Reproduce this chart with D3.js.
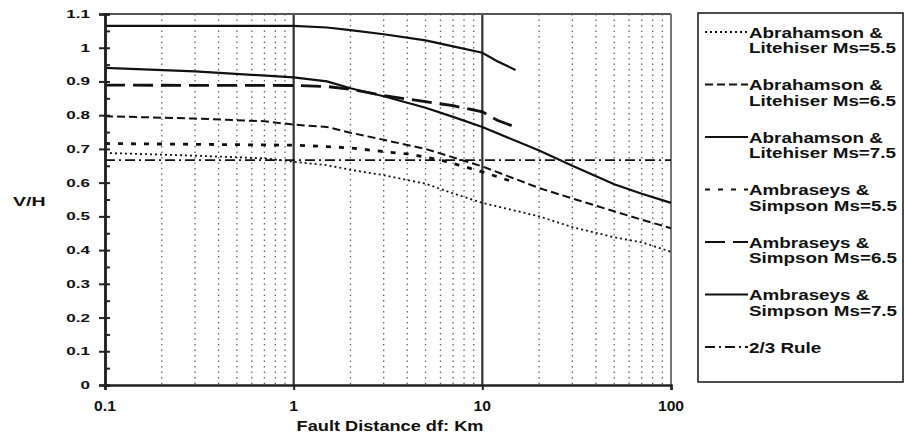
<!DOCTYPE html>
<html>
<head>
<meta charset="utf-8">
<script src="https://cdn.jsdelivr.net/npm/d3@7"></script>
<style>
  html, body { margin: 0; padding: 0; background: #fff; }
  svg { display: block; }
  text { font-family: "Liberation Sans", Arial, sans-serif; fill: #111; }
</style>
</head>
<body>
<svg id="chart" width="905" height="437"></svg>
<script>
// ---- Data ----
const abrahamson55 = [[0.1,0.688],[0.3,0.68],[0.7,0.672],[1,0.662],[1.5,0.652],[2,0.638],[3,0.622],[5,0.597],[7,0.568],[10,0.54],[20,0.5],[30,0.468],[50,0.438],[70,0.423],[100,0.395]];
const abrahamson65 = [[0.1,0.797],[0.3,0.79],[0.7,0.782],[1,0.772],[1.5,0.765],[2,0.748],[3,0.727],[5,0.7],[7,0.675],[10,0.648],[20,0.584],[30,0.553],[50,0.515],[70,0.49],[100,0.465]];
const abrahamson75 = [[0.1,0.94],[0.3,0.93],[1,0.912],[1.5,0.9],[2,0.88],[3,0.856],[5,0.822],[7,0.795],[10,0.765],[20,0.695],[30,0.65],[50,0.595],[70,0.567],[100,0.54]];
const ambraseys55 = [[0.1,0.716],[1,0.711],[1.5,0.707],[2,0.703],[3,0.692],[4,0.685],[5,0.676],[6,0.667],[7.5,0.652],[10,0.632],[15,0.6]];
const ambraseys65 = [[0.1,0.889],[1,0.888],[1.5,0.885],[2,0.877],[3,0.858],[5,0.84],[7,0.828],[10,0.81],[12,0.785],[15,0.765]];
const ambraseys75 = [[0.1,1.065],[1,1.065],[1.5,1.06],[2,1.052],[3,1.04],[5,1.022],[7,1.004],[10,0.985],[12,0.96],[15,0.934]];
const twoThirdsRule = [[0.1,0.667],[100,0.667]];

const seriesNames = [
  ["Abrahamson &", "Litehiser Ms=5.5"],
  ["Abrahamson &", "Litehiser Ms=6.5"],
  ["Abrahamson &", "Litehiser Ms=7.5"],
  ["Ambraseys &", "Simpson Ms=5.5"],
  ["Ambraseys &", "Simpson Ms=6.5"],
  ["Ambraseys &", "Simpson Ms=7.5"],
  ["2/3 Rule"]
];
const xTickValues = [0.1, 1, 10, 100];
const xTickLabels = ["0.1", "1", "10", "100"];
const yTickValues = [0,0.1,0.2,0.3,0.4,0.5,0.6,0.7,0.8,0.9,1,1.1];
const yTickLabels = ["0","0.1","0.2","0.3","0.4","0.5","0.6","0.7","0.8","0.9","1","1.1"];
const xMinorGrid = [0.2,0.3,0.4,0.5,0.6,0.7,0.8,0.9,2,3,4,5,6,7,8,9,20,30,40,50,60,70,80,90];
const xMajorGrid = [1, 10];
const xTitle = "Fault Distance df: Km";
const yTitle = "V/H";

// ---- Styles ----
const styles = [
  {w:1.8, dash:"2,3"},
  {w:2,   dash:"8,4"},
  {w:2.2, dash:null},
  {w:2.8, dash:"5,8"},
  {w:2.8, dash:"20,8"},
  {w:2.2, dash:null},
  {w:1.8, dash:"10,4,2,4"}
];
const seriesData = [abrahamson55, abrahamson65, abrahamson75, ambraseys55, ambraseys65, ambraseys75, twoThirdsRule];

const svg = d3.select("#chart");
const L = 105, R = 671, T = 14, B = 385;
const x = d3.scaleLog().domain([0.1, 100]).range([L, R]);
const y = d3.scaleLinear().domain([0, 1.1]).range([B, T]);

// minor vertical gridlines (dotted)
svg.append("g").selectAll("line").data(xMinorGrid).join("line")
  .attr("x1", d => x(d)).attr("x2", d => x(d))
  .attr("y1", T).attr("y2", B)
  .attr("stroke", "#333").attr("stroke-width", 1.3)
  .attr("stroke-dasharray", "1.5,4").attr("opacity", 0.75);

// major vertical gridlines
svg.append("g").selectAll("line").data(xMajorGrid).join("line")
  .attr("x1", d => x(d)).attr("x2", d => x(d))
  .attr("y1", T).attr("y2", B)
  .attr("stroke", "#333").attr("stroke-width", 2.2);

// frame top & right
svg.append("line").attr("x1", L).attr("x2", R).attr("y1", T).attr("y2", T)
  .attr("stroke", "#555").attr("stroke-width", 2);
svg.append("line").attr("x1", R).attr("x2", R).attr("y1", T).attr("y2", B)
  .attr("stroke", "#777").attr("stroke-width", 2);

// series lines
const line = d3.line().x(d => x(d[0])).y(d => y(d[1]));
seriesData.forEach((data, i) => {
  svg.append("path").datum(data)
    .attr("d", line)
    .attr("fill", "none")
    .attr("stroke", "#111")
    .attr("stroke-width", styles[i].w)
    .attr("stroke-dasharray", styles[i].dash);
});

// y axis (outer major ticks)
const yAxisOuter = svg.append("g").attr("transform", `translate(${L},0)`)
  .call(d3.axisLeft(y).tickValues(yTickValues).tickSize(6).tickFormat(""));
// inner ticks (major+minor)
const yInnerTicks = d3.range(0, 1.1001, 0.05);
const yAxisInner = svg.append("g").attr("transform", `translate(${L},0)`)
  .call(d3.axisRight(y).tickValues(yInnerTicks).tickSize(5).tickFormat(""));
[yAxisOuter, yAxisInner].forEach(g => {
  g.select(".domain").attr("stroke", "#222").attr("stroke-width", 2.5);
  g.selectAll(".tick line").attr("stroke", "#222").attr("stroke-width", 2);
});

// x axis
const xAxis = svg.append("g").attr("transform", `translate(0,${B})`)
  .call(d3.axisBottom(x).tickValues(xTickValues).tickSize(5).tickFormat(""));
xAxis.select(".domain").attr("stroke", "#222").attr("stroke-width", 2.5);
xAxis.selectAll(".tick line").attr("stroke", "#222").attr("stroke-width", 2);

// y tick labels (squat, wide)
svg.append("g").selectAll("text").data(yTickValues).join("text")
  .attr("transform", d => `translate(90,${y(d) + 4}) scale(1.55,1)`)
  .attr("text-anchor", "end")
  .attr("font-size", 11).attr("font-weight", "bold")
  .text((d, i) => yTickLabels[i]);

// x tick labels
svg.append("g").selectAll("text").data(xTickValues).join("text")
  .attr("transform", d => `translate(${x(d)},410.5) scale(1.12,1)`)
  .attr("text-anchor", "middle")
  .attr("font-size", 14).attr("font-weight", "bold")
  .text((d, i) => xTickLabels[i]);

// axis titles
svg.append("text").attr("transform", "translate(390,431) scale(1.3,1)")
  .attr("text-anchor", "middle").attr("font-size", 14).attr("font-weight", "bold")
  .text(xTitle);
svg.append("text").attr("transform", "translate(13,206) scale(1.5,1)")
  .attr("font-size", 13).attr("font-weight", "bold")
  .text(yTitle);

// legend
const lg = svg.append("g");
lg.append("rect").attr("x", 698).attr("y", 13).attr("width", 205).attr("height", 369)
  .attr("fill", "#fff").attr("stroke", "#222").attr("stroke-width", 1.6);
seriesNames.forEach((lines, i) => {
  const cy = 32 + i * 52.5;
  lg.append("line").attr("x1", 705).attr("x2", 748).attr("y1", cy).attr("y2", cy)
    .attr("stroke", "#111").attr("stroke-width", Math.min(styles[i].w, 2))
    .attr("stroke-dasharray", styles[i].dash);
  lines.forEach((t, j) => {
    lg.append("text").attr("transform", `translate(749,${cy + 5.5 + j * 15.5}) scale(1.3,1)`)
      .attr("font-size", 14.5).attr("font-weight", "bold")
      .text(t);
  });
});
</script>
</body>
</html>
